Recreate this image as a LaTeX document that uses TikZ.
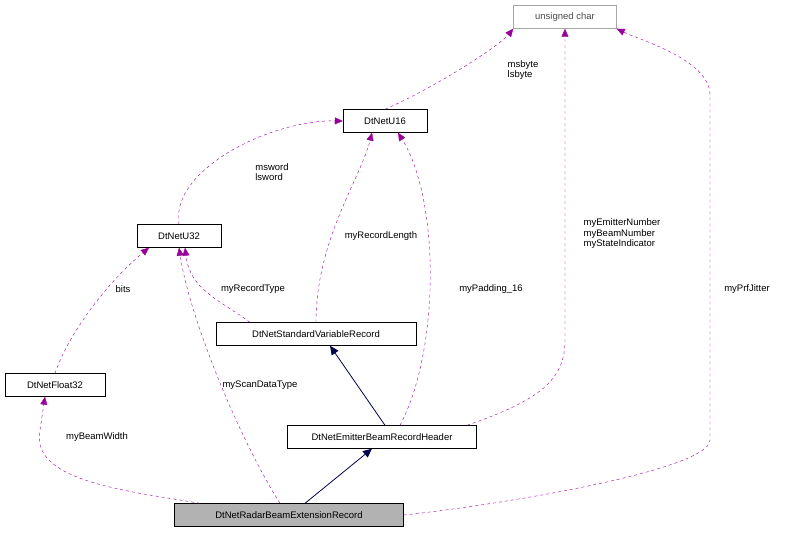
\documentclass[tikz,border=0pt]{standalone}
\usepackage{fontspec}
\setmainfont{Liberation Sans}
\usetikzlibrary{arrows.meta}
\begin{document}
\begin{tikzpicture}[x=1pt,y=-1pt,
  box/.style={draw=black,fill=white,minimum height=23pt,inner sep=0pt,font=\fontsize{9.5}{11}\selectfont},
  dep/.style={draw=violet!80!magenta,dashed,-{Triangle[length=8pt,width=7pt]}},
  inh/.style={draw=blue!30!black,thick,-{Triangle[length=9pt,width=8pt]}},
  lab/.style={font=\fontsize{9.5}{10.5}\selectfont,align=left,inner sep=1pt}]
\useasboundingbox (0,0) rectangle (788,533);
\node[box,draw=gray!70,text=gray!60!black,minimum width=103pt] (uc) at (565,17) {unsigned char};
\node[box,minimum width=84pt] (u16) at (385,121) {DtNetU16};
\node[box,minimum width=84pt] (u32) at (179,236) {DtNetU32};
\node[box,minimum width=200pt] (svr) at (316,334) {DtNetStandardVariableRecord};
\node[box,minimum width=100pt] (f32) at (55,385) {DtNetFloat32};
\node[box,minimum width=189pt] (ebr) at (382,437) {DtNetEmitterBeamRecordHeader};
\node[box,fill=gray!60,minimum width=229pt] (rbe) at (289,515) {DtNetRadarBeamExtensionRecord};
\coordinate (p1) at (710,440);
\coordinate (p2) at (710,95);

\draw[dep] (u16.north) .. controls (440,85) and (500,45) .. (uc.south west) ;
\node[lab] at (523,70) {msbyte\\lsbyte};
\draw[dep] (u32.north) .. controls (170,170) and (270,120) .. (u16.west);
\node[lab] at (272,172) {msword\\lsword};
\draw[dep] (f32.north) .. controls (70,330) and (110,280) .. ([xshift=-30pt]u32.south);
\node[lab] at (123,289) {bits};
\draw[dep] ([xshift=-66pt]svr.north) .. controls (220,300) and (190,290) .. ([xshift=6pt]u32.south);
\node[lab] at (253,289) {myRecordType};
\draw[dep] (svr.north) .. controls (316,240) and (360,180) .. ([xshift=-13pt]u16.south);
\node[lab] at (381,236) {myRecordLength};
\draw[dep] ([xshift=18pt]ebr.north) .. controls (440,350) and (440,200) .. ([xshift=13pt]u16.south);
\node[lab] at (491,289) {myPadding\_16};
\draw[dep] ([xshift=85pt]ebr.north) .. controls (540,400) and (565,380) .. (565,340) -- (uc.south);
\node[lab] at (622,234) {myEmitterNumber\\myBeamNumber\\myStateIndicator};
\draw[dep] (rbe.east) .. controls (500,505) and (710,470) .. (p1) -- (p2) .. controls (710,60) and (640,40) .. (uc.south east);
\node[lab] at (747,289) {myPrfJitter};
\draw[dep] ([xshift=-89pt]rbe.north) .. controls (120,490) and (30,480) .. (40,430) -- ([xshift=-10pt]f32.south);
\node[lab] at (97,437) {myBeamWidth};
\draw[dep] ([xshift=-9pt]rbe.north) .. controls (240,440) and (190,320) .. (u32.south);
\node[lab] at (260,385) {myScanDataType};
\draw[inh] ([xshift=3pt]ebr.north) -- ([xshift=14pt]svr.south);
\draw[inh] ([xshift=16pt]rbe.north) -- ([xshift=-10pt]ebr.south);
\end{tikzpicture}
\end{document}
